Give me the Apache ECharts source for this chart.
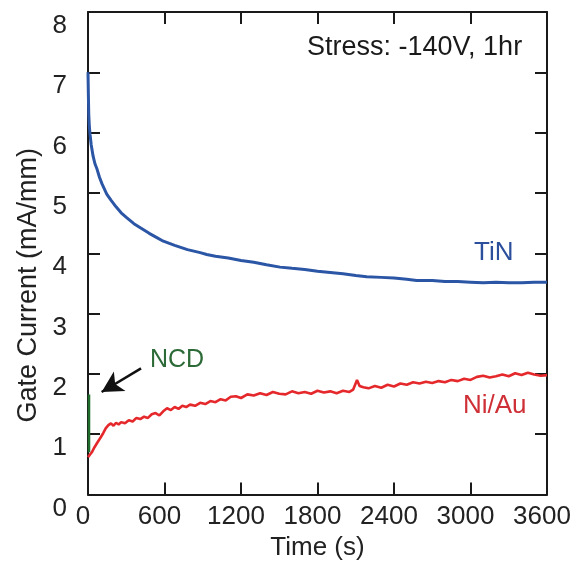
<!DOCTYPE html>
<html>
<head>
<meta charset="utf-8">
<script src="https://cdn.jsdelivr.net/npm/echarts@6/dist/echarts.min.js"></script>
<style>html,body{margin:0;padding:0;background:#fff}#c{width:581px;height:562px}</style>
</head>
<body>
<div id="c"></div>
<script>
const xTicks = [0, 600, 1200, 1800, 2400, 3000, 3600];
const yTicks = [0, 1, 2, 3, 4, 5, 6, 7, 8];

const tinTime = [0,3,6,10,16,25,40,55,70,90,110,147,180,220,260,303,360,420,480,540,591,680,780,880,931,1000,1100,1200,1300,1400,1506,1600,1700,1800,1900,2000,2100,2186,2300,2400,2500,2578,2700,2800,2900,3000,3100,3200,3300,3400,3500,3600];
const tinCurrent = [7.00,6.62,6.30,6.12,5.97,5.80,5.61,5.48,5.40,5.26,5.15,4.98,4.88,4.77,4.67,4.59,4.49,4.41,4.33,4.26,4.20,4.13,4.06,4.01,3.98,3.95,3.92,3.88,3.85,3.81,3.77,3.75,3.73,3.70,3.68,3.66,3.63,3.61,3.60,3.59,3.57,3.55,3.55,3.53,3.53,3.52,3.51,3.52,3.51,3.51,3.52,3.52];

const niauTime = [0,15,30,50,70,81,100,120,140,160,180,200,220,240,260,290,320,350,380,410,440,470,500,530,560,590,620,650,680,710,740,770,800,840,880,920,960,1000,1040,1080,1120,1160,1200,1250,1300,1350,1400,1450,1500,1550,1600,1650,1700,1750,1800,1850,1900,1950,2000,2050,2080,2110,2130,2160,2200,2250,2300,2350,2400,2450,2500,2550,2600,2650,2700,2750,2800,2850,2900,2950,3000,3050,3100,3150,3200,3250,3300,3350,3400,3450,3500,3550,3600];
const niauCurrent = [0.62,0.65,0.70,0.78,0.85,0.87,0.95,1.02,1.10,1.15,1.18,1.14,1.19,1.16,1.20,1.18,1.23,1.21,1.27,1.25,1.29,1.27,1.33,1.35,1.31,1.38,1.43,1.40,1.45,1.42,1.47,1.45,1.49,1.47,1.52,1.50,1.55,1.53,1.58,1.56,1.62,1.63,1.60,1.66,1.64,1.68,1.65,1.70,1.67,1.66,1.71,1.68,1.70,1.67,1.72,1.69,1.71,1.68,1.72,1.70,1.74,1.90,1.80,1.78,1.76,1.80,1.77,1.82,1.79,1.84,1.82,1.86,1.84,1.87,1.85,1.88,1.86,1.90,1.88,1.92,1.90,1.95,1.97,1.94,1.96,1.99,1.96,2.01,1.98,2.02,1.99,1.97,1.98];

const ncdTime = [8, 8];
const ncdCurrent = [0.70, 1.66];

const arrowFrom = [416, 2.09];
const arrowTo = [107, 1.70];

const pairs = (t, v) => t.map((x, i) => [x, v[i]]);

const FONT = '"Liberation Sans", Arial, Helvetica, sans-serif';
const axisLineStyle = { show: true, onZero: false, lineStyle: { color: '#1a1a1a', width: 2 } };
const tickStyle = { show: true, inside: true, length: 12, lineStyle: { color: '#1a1a1a', width: 2 } };

const chart = echarts.init(document.getElementById('c'), null, { renderer: 'canvas' });
chart.setOption({
  backgroundColor: '#ffffff',
  animation: false,
  grid: { left: 88, right: 34, top: 12, bottom: 67.5, containLabel: false, outerBoundsMode: 'none' },
  xAxis: [
    {
      type: 'value', min: xTicks[0], max: xTicks[xTicks.length - 1], interval: 600, position: 'bottom',
      axisLine: axisLineStyle, axisTick: tickStyle, splitLine: { show: false },
      axisLabel: { fontFamily: FONT, fontSize: 26, color: '#222', margin: 9, padding: [0, 10, 0, 0], showMinLabel: true, showMaxLabel: true, hideOverlap: false, formatter: v => String(v) },
      name: 'Time (s)', nameLocation: 'middle', nameGap: 36,
      nameTextStyle: { fontFamily: FONT, fontSize: 26, color: '#222' }
    },
    {
      type: 'value', min: xTicks[0], max: xTicks[xTicks.length - 1], interval: 600, position: 'top',
      axisLine: axisLineStyle, axisTick: tickStyle, splitLine: { show: false }, axisLabel: { show: false }
    }
  ],
  yAxis: [
    {
      type: 'value', min: yTicks[0], max: yTicks[yTicks.length - 1], interval: 1, position: 'left',
      axisLine: axisLineStyle, axisTick: tickStyle, splitLine: { show: false },
      axisLabel: { fontFamily: FONT, fontSize: 26, color: '#222', margin: 21, verticalAlign: 'top', lineHeight: 28, showMinLabel: true, showMaxLabel: true, hideOverlap: false, formatter: v => String(v) },
      name: 'Gate Current (mA/mm)', nameLocation: 'middle', nameGap: 46, nameRotate: 90,
      nameTextStyle: { fontFamily: FONT, fontSize: 27, color: '#222', padding: [0, 64, 0, 0] }
    },
    {
      type: 'value', min: yTicks[0], max: yTicks[yTicks.length - 1], interval: 1, position: 'right',
      axisLine: axisLineStyle, axisTick: tickStyle, splitLine: { show: false }, axisLabel: { show: false }
    }
  ],
  series: [
    {
      name: 'TiN', type: 'line', data: pairs(tinTime, tinCurrent), showSymbol: false,
      lineStyle: { color: '#2b55a5', width: 3 }, z: 3
    },
    {
      name: 'Ni/Au', type: 'line', data: pairs(niauTime, niauCurrent), showSymbol: false,
      lineStyle: { color: '#e5282b', width: 2.6 }, z: 3
    },
    {
      name: 'NCD', type: 'line', data: pairs(ncdTime, ncdCurrent), showSymbol: false,
      lineStyle: { color: '#1f6b2c', width: 2.5 }, z: 2,
      markLine: {
        silent: true, animation: false,
        lineStyle: { color: '#111', width: 2.5, type: 'solid' },
        label: { show: false },
        data: [[
          { coord: arrowFrom, symbol: 'none' },
          { coord: arrowTo, symbol: 'arrow', symbolSize: [17, 21] }
        ]]
      }
    }
  ],
  graphic: [
    { type: 'text', left: 307, top: 34, style: { text: 'Stress: -140V, 1hr', font: '27px ' + FONT, fill: '#1a1a1a' } },
    { type: 'text', left: 474, top: 240, style: { text: 'TiN', font: '26px ' + FONT, fill: '#2b4f9c' } },
    { type: 'text', left: 463, top: 393, style: { text: 'Ni/Au', font: '26px ' + FONT, fill: '#cf2f36' } },
    { type: 'text', left: 150, top: 348, style: { text: 'NCD', font: '25px ' + FONT, fill: '#2c6a37' } }
  ]
});
</script>
</body>
</html>
